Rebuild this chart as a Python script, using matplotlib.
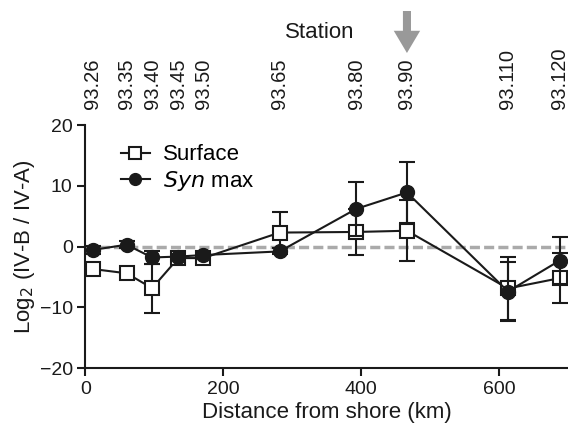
import matplotlib
matplotlib.use("Agg")
import matplotlib.pyplot as plt
import matplotlib.transforms as mtransforms
from matplotlib.lines import Line2D

plt.rcParams['font.family'] = ['Liberation Sans', 'DejaVu Sans']

# Data
distance_km = [11, 60, 97, 135, 171, 282, 393, 466.5, 613, 688]
stations = ["93.26", "93.35", "93.40", "93.45", "93.50", "93.65", "93.80", "93.90", "93.110", "93.120"]
surface = [-3.7, -4.4, -6.85, -1.9, -1.9, 2.3, 2.4, 2.6, -6.9, -5.2]
surface_err = [0.8, 0.8, 4.05, 0.6, 0.6, 3.4, 3.8, 5.0, 5.2, 4.1]
synmax = [-0.55, 0.3, -1.8, -1.65, -1.4, -0.8, 6.2, 8.9, -7.4, -2.3]
synmax_err = [0.6, 0.6, 1.0, 0.5, 0.5, 0.5, 4.5, 5.0, 4.8, 3.9]
highlight_station = "93.90"

INK = '#1a1a1a'

fig = plt.figure(figsize=(5.68, 4.32), dpi=100)
ax = fig.add_axes([0.150, 0.148, 0.85, 0.5626])

ax.axhline(0, color='#aaaaaa', lw=2.5, ls=(0, (2.9, 1.2)), zorder=1)

ax.errorbar(distance_km, surface, yerr=surface_err, color=INK, lw=1.5,
            marker='s', ms=10, mfc='white', mec=INK, mew=1.5,
            capsize=5.5, capthick=1.5, elinewidth=1.5, zorder=3, clip_on=False)
ax.errorbar(distance_km, synmax, yerr=synmax_err, color=INK, lw=1.5,
            marker='o', ms=10, mfc=INK, mec=INK,
            capsize=5.5, capthick=1.5, elinewidth=1.5, zorder=4, clip_on=False)

ax.set_xlim(0, 700)
ax.set_ylim(-20, 20)
ax.set_xticks([0, 200, 400, 600])
ax.set_yticks([-20, -10, 0, 10, 20])
ax.set_yticklabels(['\u221220', '\u221210', '0', '10', '20'])
for s in ['top', 'right']:
    ax.spines[s].set_visible(False)
for s in ['left', 'bottom']:
    ax.spines[s].set_linewidth(1.5)
    ax.spines[s].set_color(INK)
ax.tick_params(axis='both', labelsize=14, width=1.5, length=6, color=INK, labelcolor=INK, pad=3)
ax.set_xlabel('Distance from shore (km)', fontsize=16, color=INK, labelpad=3)
ax.set_ylabel('Log$_2$ (IV-B / IV-A)', fontsize=16, color=INK, labelpad=2)

handles = [
    Line2D([], [], color=INK, lw=1.5, marker='s', ms=8.5, mfc='white', mec=INK, mew=1.5),
    Line2D([], [], color=INK, lw=1.5, marker='o', ms=8.5, mfc=INK, mec=INK),
]
ax.legend(handles, ['Surface', '$\\mathit{Syn}$ max'], loc='upper left',
          bbox_to_anchor=(0.074, 0.92), borderaxespad=0, borderpad=0,
          frameon=False, fontsize=16, handlelength=1.3, handletextpad=0.6,
          labelspacing=0.17)

# Top station labels
ax2 = ax.twiny()
ax2.set_xlim(ax.get_xlim())
ax2.set_xticks(distance_km)
ax2.set_xticklabels(stations, rotation=90, fontsize=14.5, color=INK)
ax2.tick_params(axis='x', length=0, pad=11.5)
for s in ax2.spines.values():
    s.set_visible(False)

fig.text(320 / 568, 1 - 32 / 432, 'Station', ha='center', va='center', fontsize=16, color=INK)

idx = stations.index(highlight_station)
trans = mtransforms.blended_transform_factory(ax.transData, fig.transFigure)
ax.annotate('', xy=(distance_km[idx], 1 - 53 / 432), xytext=(distance_km[idx], 1 - 11 / 432),
            xycoords=trans, textcoords=trans,
            arrowprops=dict(facecolor='#999999', edgecolor='none', width=5.8, headwidth=19, headlength=16))

fig.savefig('out.png', dpi=100)
